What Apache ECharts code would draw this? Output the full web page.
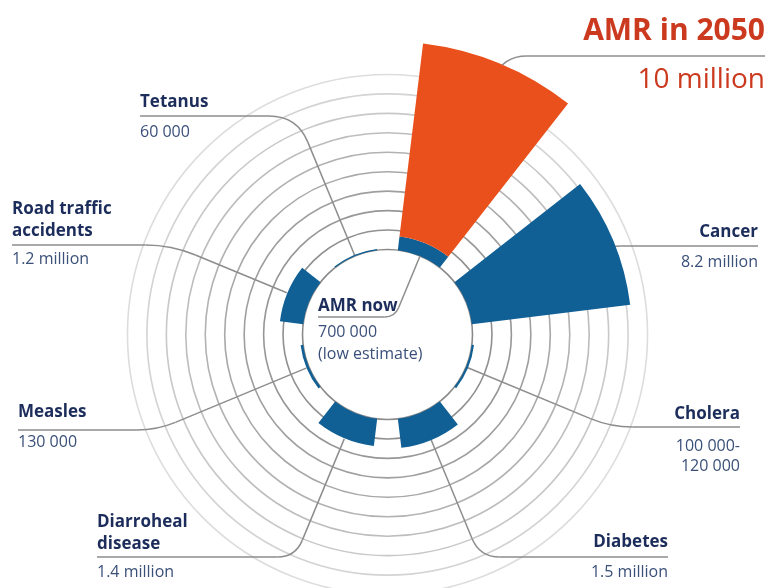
<!DOCTYPE html>
<html>
<head>
<meta charset="utf-8">
<title>AMR deaths</title>
<script src="https://cdn.jsdelivr.net/npm/echarts@6.0.0/dist/echarts.min.js"></script>
<style>
  html, body { margin: 0; padding: 0; background: #fff; }
  #chart { width: 769px; height: 588px; }
</style>
</head>
<body>
<div id="chart"></div>
<script>
// deaths per year, in millions (one ring = 1 million)
var categories = ['AMR', 'Cancer', 'Cholera', 'Diabetes', 'Diarroheal disease', 'Measles', 'Road traffic accidents', 'Tetanus'];
var deathsNow = [0.7, 8.2, 0.11, 1.5, 1.4, 0.13, 1.2, 0.06];
var amr2050 = [10, '-', '-', '-', '-', '-', '-', '-'];
var ringMax = 9;

// label texts
var nameLabels = ['AMR now', 'Cancer', 'Cholera', 'Diabetes', 'Diarroheal\ndisease', 'Measles', 'Road traffic\naccidents', 'Tetanus'];
var valueLabels = ['700 000\n(low estimate)', '8.2 million', '100 000-\n120 000', '1.5 million', '1.4 million', '130 000', '1.2 million', '60 000'];
var titleName = 'AMR in 2050';
var titleValue = '10 million';

// layout
var CX = 387.5, CY = 334.5, R0 = 85, STEP = 19.45;
var BLUE = '#106096', ORANGE = '#ea501c', NAVY = '#1c2d5c', SLATE = '#3a5079', RED = '#cb3a1f', LINE = '#8d8d8d';
var FONT = '"Open Sans", "Noto Sans", sans-serif';

// where each label sits: x is the text edge next to the underline,
// nameBase / valueBase are the baselines of the first text line
var labelLayout = [
  { i: 0, side: 'left',  x: 318, lineY: 317, nameBase: 312, valueBase: 338, lh: 22, d: 10, rEnd: 85 },
  { i: 1, side: 'right', x: 758, lineY: 246, nameBase: 238, valueBase: 268, lh: 22, d: 20, rEnd: 200 },
  { i: 2, side: 'right', x: 740, lineY: 427, nameBase: 420, valueBase: 452, lh: 20, d: 22, rEnd: 85 },
  { i: 3, side: 'right', x: 668, lineY: 557, nameBase: 548, valueBase: 578, lh: 22, d: 20, rEnd: 114 },
  { i: 4, side: 'left',  x: 97,  lineY: 557, nameBase: 528, valueBase: 578, lh: 22, d: 18, rEnd: 113 },
  { i: 5, side: 'left',  x: 18,  lineY: 430, nameBase: 418, valueBase: 448, lh: 22, d: 20, rEnd: 88 },
  { i: 6, side: 'left',  x: 12,  lineY: 245, nameBase: 215, valueBase: 265, lh: 22, d: 26, rEnd: 109 },
  { i: 7, side: 'left',  x: 140, lineY: 116, nameBase: 108, valueBase: 138, lh: 22, d: 28, rEnd: 85 }
];
var titleLayout = { i: 0, side: 'right', x: 765, lineY: 56, nameBase: 42, valueBase: 90, d: 24, rEnd: 260 };

function catAngle(i) {
  var step = 360 / categories.length;
  return (90 - step * (i + 0.5)) * Math.PI / 180;
}
function polarPoint(i, r) {
  var a = catAngle(i);
  return [CX + r * Math.cos(a), CY - r * Math.sin(a)];
}
// underline + rounded bend + straight run along the sector's middle
function leaderEls(L) {
  var a = catAngle(L.i);
  var rc = (CY - L.lineY) / Math.sin(a);
  var xc = CX + rc * Math.cos(a);
  var hx = xc - L.d * Math.sign(xc - L.x);
  var p2 = polarPoint(L.i, rc + L.d * Math.sign(L.rEnd - rc));
  var pe = polarPoint(L.i, L.rEnd);
  var st = { stroke: LINE, fill: null, lineWidth: 1.5 };
  return [
    { type: 'line', z: 1, shape: { x1: L.x, y1: L.lineY, x2: hx, y2: L.lineY }, style: st },
    { type: 'bezierCurve', z: 1, shape: { x1: hx, y1: L.lineY, cpx1: xc, cpy1: L.lineY, x2: p2[0], y2: p2[1] }, style: st },
    { type: 'line', z: 1, shape: { x1: p2[0], y1: p2[1], x2: pe[0], y2: pe[1] }, style: st }
  ];
}
function textEl(x, base, str, size, weight, color, align, lh) {
  lh = lh || size + 4;
  return {
    type: 'text', x: x, y: base - 0.36 * size - lh / 2, z: 10,
    style: {
      text: str, fill: color, align: align, verticalAlign: 'top', lineHeight: lh,
      font: weight + ' ' + size + 'px ' + FONT
    }
  };
}

var graphics = [];
labelLayout.forEach(function (L) {
  graphics = graphics.concat(leaderEls(L));
  graphics.push(textEl(L.x, L.nameBase, nameLabels[L.i], 17, 'bold', NAVY, L.side, L.lh));
  graphics.push(textEl(L.x, L.valueBase, valueLabels[L.i], 16, 'normal', SLATE, L.side, L.lh));
});
graphics = graphics.concat(leaderEls(titleLayout));
graphics.push(textEl(titleLayout.x, titleLayout.nameBase, titleName, 30, 'bold', RED, 'right'));
graphics.push(textEl(titleLayout.x, titleLayout.valueBase, titleValue, 28, 'normal', RED, 'right'));

// rings fade out towards the edge
var ringColors = ['#8a8a8a', '#909090', '#979797', '#9f9f9f', '#a8a8a8', '#b2b2b2', '#bdbdbd', '#c8c8c8', '#d3d3d3', '#dddddd'];

var chart = echarts.init(document.getElementById('chart'));
chart.setOption({
  backgroundColor: '#fff',
  animation: false,
  polar: { center: [CX, CY], radius: [R0, R0 + STEP * ringMax] },
  angleAxis: {
    type: 'category', data: categories, startAngle: 90, clockwise: true,
    axisLine: { show: false }, axisTick: { show: false }, axisLabel: { show: false },
    splitLine: { show: false }
  },
  radiusAxis: {
    type: 'value', min: 0, max: ringMax, interval: 1,
    axisLine: { show: false }, axisTick: { show: false }, axisLabel: { show: false },
    splitLine: { show: true, lineStyle: { color: ringColors, width: 1.6 } }
  },
  series: [
    {
      name: 'Deaths now', type: 'bar', coordinateSystem: 'polar', stack: 'deaths',
      data: deathsNow, barCategoryGap: '31%', clip: false, z: 2,
      itemStyle: { color: BLUE }
    },
    {
      name: 'AMR in 2050', type: 'bar', coordinateSystem: 'polar', stack: 'deaths',
      data: amr2050, barCategoryGap: '31%', clip: false, z: 2,
      itemStyle: { color: ORANGE }
    }
  ],
  graphic: graphics
});
</script>
</body>
</html>
